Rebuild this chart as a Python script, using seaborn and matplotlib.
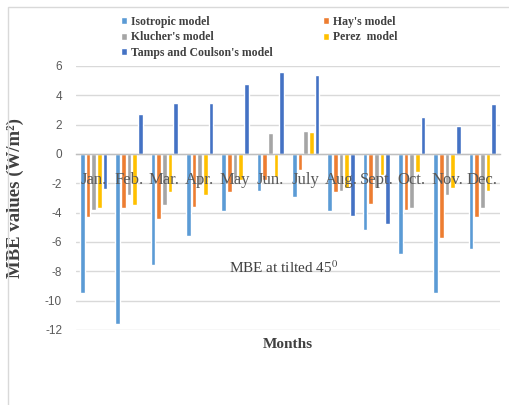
import numpy as np
import pandas as pd
import seaborn as sns
import matplotlib.pyplot as plt
from matplotlib.patches import Rectangle

# ----- Data -----
months = ["Jan.", "Feb.", "Mar.", "Apr.", "May", "Jun.", "July",
          "Aug.", "Sept.", "Oct.", "Nov.", "Dec."]
models = ["Isotropic model", "Hay's model", "Klucher's model",
          "Perez  model", "Tamps and Coulson's model"]
isotropic = [-9.5, -11.6, -7.6, -5.6, -3.9, -2.5, -2.9, -3.9, -5.2, -6.8, -9.5, -6.5]
hay = [-4.3, -3.7, -4.4, -3.6, -2.6, -1.8, -1.1, -2.6, -3.4, -3.8, -5.7, -4.3]
klucher = [-3.8, -2.8, -3.5, -2.1, -1.8, 1.4, 1.6, -2.5, -2.3, -3.7, -2.8, -3.7]
perez = [-3.7, -3.5, -2.6, -2.8, -1.8, -1.6, 1.5, -2.3, -1.4, -1.2, -2.3, -2.5]
tamps = [-2.4, 2.7, 3.5, 3.5, 4.8, 5.6, 5.4, -4.2, -4.8, 2.5, 1.9, 3.4]
colors = ["#5B9BD5", "#ED7D31", "#A5A5A5", "#FFC000", "#4472C4"]

series = [isotropic, hay, klucher, perez, tamps]
df = pd.DataFrame({
    "Month": months * len(models),
    "MBE": np.concatenate(series),
    "Model": np.repeat(models, len(months)),
})

# ----- Style -----
sns.set_theme(style="white")
plt.rcParams["font.family"] = ["Liberation Serif", "DejaVu Serif"]
plt.rcParams["mathtext.fontset"] = "stix"
plt.rcParams["axes.unicode_minus"] = False

fig = plt.figure(figsize=(5.09, 4.05), dpi=100)
ax = fig.add_axes([76 / 509, 1 - 330 / 405, 424 / 509, 264 / 405])

sns.barplot(data=df, x="Month", y="MBE", hue="Model", order=months,
            hue_order=models, palette=colors, width=0.8, gap=0.22,
            errorbar=None, saturation=1, ax=ax)

ax.set_ylim(-12, 6)
ax.set_xlim(-0.5, 11.5)
ax.set_yticks(np.arange(-12, 7, 2))
ax.yaxis.grid(True, color="#D9D9D9", linewidth=1)
ax.set_axisbelow(True)
ax.xaxis.set_zorder(5)  # month names sit on top of the bars
for s in ["top", "right", "left"]:
    ax.spines[s].set_visible(False)
ax.spines["bottom"].set_position(("data", 0))
ax.spines["bottom"].set_color("#BFBFBF")
ax.spines["bottom"].set_linewidth(1)

ax.tick_params(axis="y", length=0, pad=10, labelcolor="#595959")
for lbl in ax.get_yticklabels():
    lbl.set_fontfamily("Liberation Sans")
    lbl.set_fontsize(8.5)
ax.tick_params(axis="x", length=0, pad=13, labelcolor="#595959", labelsize=12)

ax.set_xlabel("Months", fontsize=11, fontweight="bold", color="#404040")
ax.xaxis.set_label_coords(0.5, -0.03)
ax.set_ylabel("MBE values (W/m²)", fontsize=13.5, fontweight="bold", color="#404040")
ax.yaxis.set_label_coords(-0.122, 0.5)

ax.text(0.49, 0.235, r"MBE at tilted 45$^{0}$", transform=ax.transAxes,
        ha="center", va="center", fontsize=11, color="#404040")

# legend, row-major order like the original
handles, labels = ax.get_legend_handles_labels()
ax.legend_.remove()
idx = [0, 2, 4, 1, 3]
fig.legend([handles[i] for i in idx], [labels[i] for i in idx],
           loc="upper left", bbox_to_anchor=(116 / 509, 1 - 11 / 405),
           ncol=2, frameon=False, handlelength=0.55, handleheight=0.55,
           handletextpad=0.35, labelspacing=0.3, columnspacing=4.2,
           prop={"family": "Liberation Serif", "weight": "bold", "size": 8.5},
           labelcolor="#404040", borderaxespad=0)

# chart area border (cut off on the right and bottom)
fig.patches.append(Rectangle((8 / 509, -0.1), 1.0, 1 - 7 / 405 + 0.1,
                             transform=fig.transFigure, fill=False,
                             edgecolor="#D9D9D9", linewidth=1))

fig.savefig("out.png", dpi=100)
